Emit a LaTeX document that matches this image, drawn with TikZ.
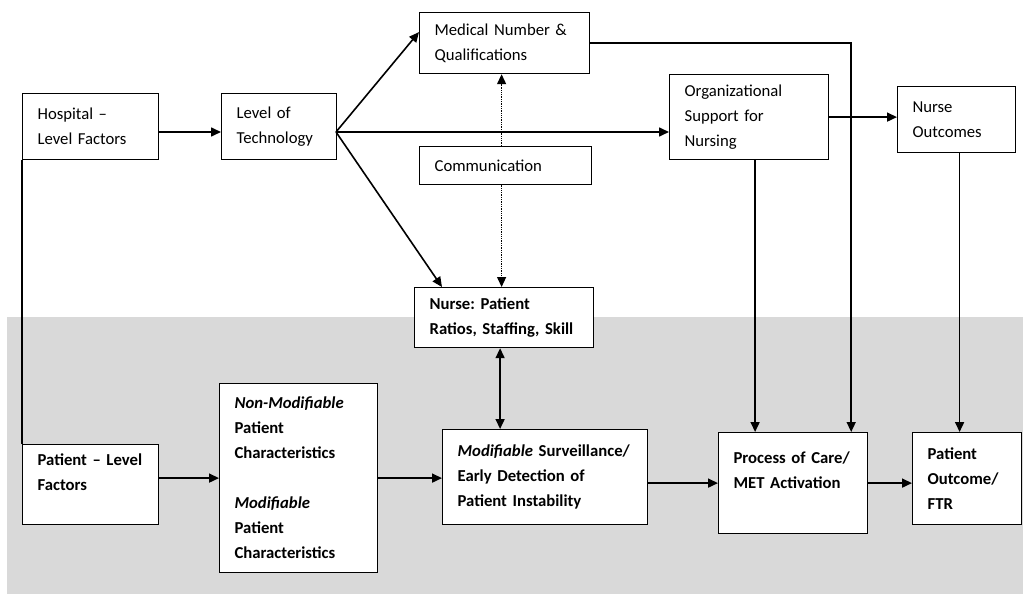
\documentclass[tikz,border=0pt]{standalone}
\usepackage{fontspec}
\setmainfont{Carlito}
\frenchspacing
\usetikzlibrary{arrows.meta}
\definecolor{bandgray}{HTML}{D9D9D9}
\tikzset{
  box/.style={draw, line width=1.2pt, fill=white, anchor=north west, align=left,
    inner xsep=15pt, inner ysep=0pt, font=\fontsize{16.7}{25}\selectfont},
  bbox/.style={box, font=\fontsize{16.7}{25}\selectfont\bfseries},
  arr/.style={line width=1.6pt, -{Triangle[length=10pt,width=9pt]}},
  plain/.style={line width=1.6pt},
  dotarr/.style={line width=1.3pt, densely dotted, -{Triangle[length=10pt,width=9pt]}},
  dblarr/.style={line width=1.6pt, {Triangle[length=10pt,width=9pt]}-{Triangle[length=10pt,width=9pt]}}
}
\newcommand{\mkbox}[7]{% style, name, x1, y1, x2, y2, text
  \node[#1, text width={#5-#3-30pt}, minimum width={#5-#3}, minimum height={#6-#4}] (#2) at (#3,#4) {#7};}
\begin{document}
\begin{tikzpicture}[x=1pt,y=-1pt]
\useasboundingbox (0,0) rectangle (1023,594);
\fill[bandgray] (7,317) rectangle (1023,594);
% boxes
\mkbox{box}{hosp}{22}{93}{158}{159}{Hospital --\\Level Factors}
\mkbox{box}{tech}{221}{93}{336}{159}{Level of\\Technology}
\mkbox{box}{med}{419}{12}{589}{73}{Medical Number \&\\Qualifications}
\mkbox{box}{comm}{419}{146}{591}{184}{Communication}
\mkbox{box}{org}{669}{74}{828}{159}{Organizational\\Support for\\Nursing}
\mkbox{box}{nout}{897}{86}{1015}{152}{Nurse\\Outcomes}
\mkbox{bbox}{nurse}{414}{287}{593}{347}{Nurse: Patient\\Ratios, Staffing, Skill}
\mkbox{bbox}{pat}{22}{444}{158}{524}{Patient -- Level\\Factors\\\mbox{}}
\mkbox{bbox}{nonmod}{219}{383}{377}{572}{\textit{Non-Modifiable}\\Patient\\Characteristics\\[25pt]\textit{Modifiable}\\Patient\\Characteristics}
\mkbox{bbox}{surv}{442}{429}{647}{524}{\textit{Modifiable} Surveillance/\\Early Detection of\\Patient Instability}
\mkbox{bbox}{proc}{718}{432}{867}{533}{Process of Care/\\MET Activation\\\mbox{}}
\mkbox{bbox}{pout}{912}{432}{1021}{524}{Patient\\Outcome/\\FTR}
% connectors
\coordinate (fan) at (336,132);
\draw[arr] (hosp.east |- fan) -- (tech.west |- fan);
\draw[arr] (fan) -- ([yshift=11pt]med.west);
\draw[arr] (fan) -- (org.west |- fan);
\draw[arr] (fan) -- ([xshift=28pt]nurse.north west);
\draw[dotarr] ([xshift=-4pt]comm.north) -- ([xshift=-4pt]comm.north |- med.south);
\draw[dotarr] ([xshift=-4pt]comm.south) -- ([xshift=-4pt]comm.south |- nurse.north);
\draw[dblarr] ([xshift=-4pt]nurse.south) -- ([xshift=-4pt]nurse.south |- surv.north);
\draw[arr] (org.east) -- (org.east -| nout.west);
\draw[arr] (med.east) -| ([xshift=-17pt]proc.north east);
\draw[arr] ([xshift=6pt]org.south) -- ([xshift=6pt]org.south |- proc.north);
\draw[arr] ([xshift=3pt]nout.south) -- ([xshift=3pt]nout.south |- pout.north);
\draw[plain] (hosp.south west) -- (pat.north west);
\draw[arr] (nonmod.west -| pat.east) -- (nonmod.west);
\draw[arr] (nonmod.east) -- (nonmod.east -| surv.west);
\draw[arr] (proc.west -| surv.east) -- (proc.west);
\draw[arr] (proc.east) -- (proc.east -| pout.west);
\end{tikzpicture}
\end{document}
